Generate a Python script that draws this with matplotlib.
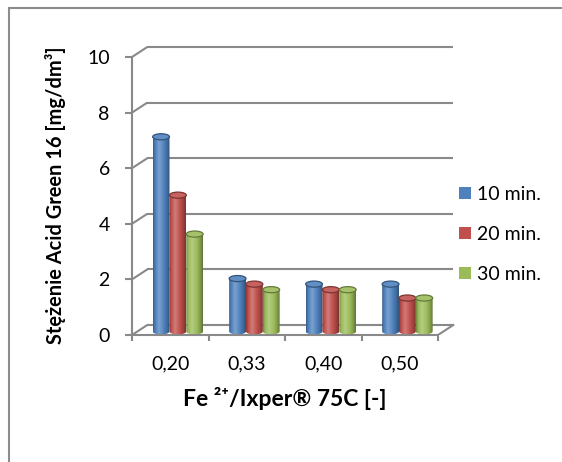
import numpy as np
import matplotlib.pyplot as plt
from matplotlib.patches import Ellipse, Polygon, Patch, Rectangle
from matplotlib.colors import to_rgb

categories = ['0,20', '0,33', '0,40', '0,50']
series = ['10 min.', '20 min.', '30 min.']
v10 = [7.0, 1.9, 1.7, 1.7]
v20 = [4.9, 1.7, 1.5, 1.2]
v30 = [3.5, 1.5, 1.5, 1.2]
colors = ['#4F81BD', '#C0504D', '#9BBB59']
yticks = [0, 2, 4, 6, 8, 10]

plt.rcParams['font.family'] = ['Lato', 'DejaVu Sans']
grey = '#898989'

W, H = 562, 462
fig = plt.figure(figsize=(W / 100, H / 100), dpi=100)

# plot area: 0 on the front axis at (132, 335) px, 76.5 px per category, 27.8 px per unit
px_x, px_y = 76.5, 27.8
xmax, ymax = 4.4, 10.8
ax = fig.add_axes([132 / W, (H - 335) / H, xmax * px_x / W, ymax * px_y / H])
ax.set_xlim(0, xmax)
ax.set_ylim(0, ymax)

# depth of the 3d box and position of the bar row inside it
dx, dy = 0.2, 0.36
bx, by = 0.1, 0.13
w = 0.22
eh = 0.22

# back wall gridlines and their joints to the front axis
for v in yticks:
    ax.plot([0, dx], [v, v + dy], color=grey, lw=1.5, zorder=1, solid_capstyle='butt')
    ax.plot([dx, 4 + dx], [v + dy, v + dy], color=grey, lw=1.5, zorder=1, solid_capstyle='butt')
ax.plot([4, 4 + dx], [0, dy], color=grey, lw=1.5, zorder=1)

for s in ['top', 'right']:
    ax.spines[s].set_visible(False)
for s in ['left', 'bottom']:
    ax.spines[s].set_color(grey)
    ax.spines[s].set_linewidth(1.5)
ax.spines['left'].set_bounds(0, 10)
ax.spines['bottom'].set_bounds(0, 4)

ax.set_yticks(yticks)
ax.set_yticklabels([str(v) for v in yticks])
ax.tick_params(axis='y', direction='out', length=5, width=1.5, color=grey,
               labelsize=14, pad=11)
ax.set_xticks([0.5, 1.5, 2.5, 3.5])
ax.set_xticklabels(categories)
ax.set_xticks([0, 1, 2, 3, 4], minor=True)
ax.tick_params(axis='x', which='major', length=0, labelsize=14, pad=15)
ax.tick_params(axis='x', which='minor', direction='out', length=4, width=1.5, color=grey)

# shading across a cylinder, from the left edge to the right edge
t_ctl = [0, 0.1, 0.35, 0.6, 0.85, 1]
f_ctl = [-0.3, -0.05, 0.25, 0.05, -0.18, -0.38]


def shade(rgb, f):
    rgb = np.array(rgb)
    if f >= 0:
        return rgb + (1 - rgb) * f
    return rgb * (1 + f)


tt = np.linspace(0, 1, 64)
ff = np.interp(tt, t_ctl, f_ctl)

for i in range(len(categories)):
    for k, vals in enumerate([v10, v20, v30]):
        base = to_rgb(colors[k])
        xl = i + 0.5 - 1.5 * w + k * w + bx
        xr = xl + w
        xc = xl + w / 2
        top = vals[i] + by
        th = np.linspace(np.pi, 2 * np.pi, 40)
        pts = [(xl, top)] + [(xc + w / 2 * np.cos(a), by + eh / 2 * np.sin(a)) for a in th] + [(xr, top)]
        clip = Polygon(pts, closed=True, transform=ax.transData)
        grad = np.array([[shade(base, f) for f in ff]])
        im = ax.imshow(grad, extent=(xl, xr, by - eh / 2, top), aspect='auto',
                       interpolation='bilinear', zorder=3 + i)
        im.set_clip_path(clip)
        ax.add_patch(Ellipse((xc, top), w, eh, facecolor=shade(base, 0.1),
                             edgecolor=shade(base, -0.35), lw=0.9, zorder=3 + i))

ax.set_xlim(0, xmax)
ax.set_ylim(0, ymax)

handles = [Patch(facecolor=c, edgecolor='none') for c in colors]
fig.legend(handles, series, loc='upper left', bbox_to_anchor=(459 / W, 1 - 186 / H),
           frameon=False, fontsize=14, handlelength=0.62, handleheight=0.62,
           handletextpad=0.31, labelspacing=1.18, borderpad=0, borderaxespad=0)

fig.text(55 / W, 1 - 195 / H, 'Stężenie Acid Green 16 [mg/dm³]', rotation=90,
         ha='center', va='center', fontsize=14.4, fontweight='bold')
fig.text(285 / W, 1 - 398 / H, 'Fe ²⁺/Ixper® 75C [-]', ha='center', va='center',
         fontsize=16.5, fontweight='bold')

# chart border, running off the right and bottom edges
fig.add_artist(Rectangle((9 / W, -0.1), 1.2, 1.1 - 8 / H, transform=fig.transFigure,
                         fill=False, edgecolor='#8c8c8c', lw=1.5))

fig.savefig('out.png', dpi=100)
